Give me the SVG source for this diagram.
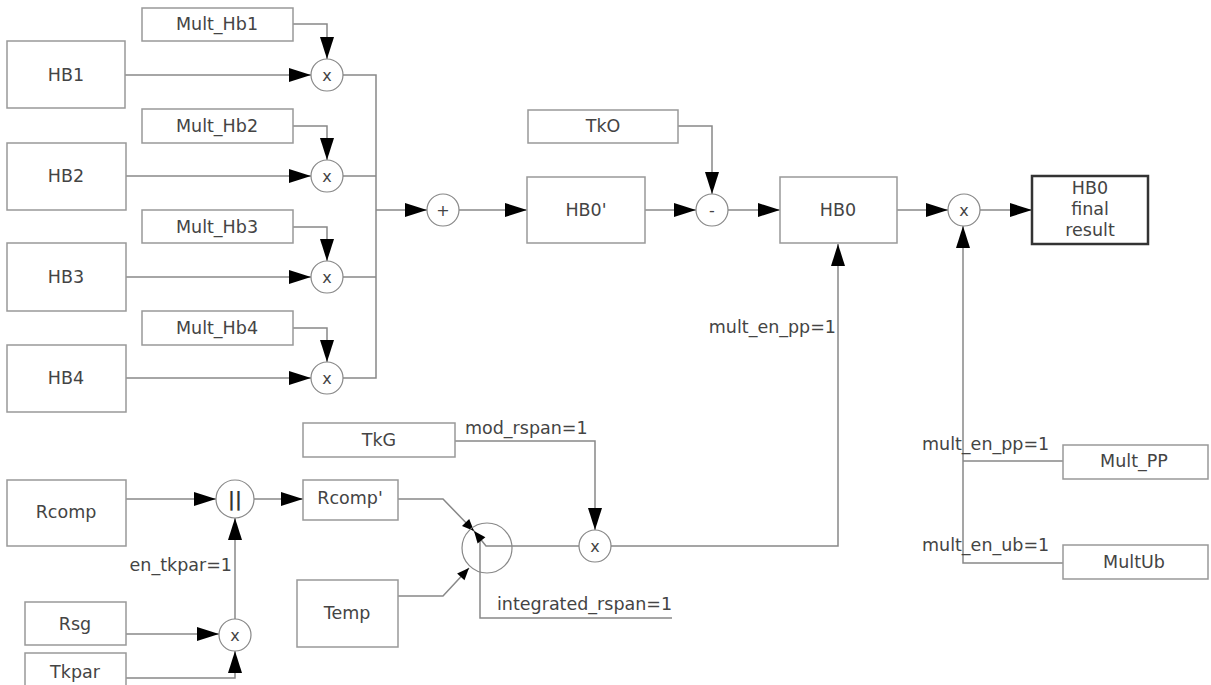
<svg xmlns="http://www.w3.org/2000/svg" width="1211" height="685" viewBox="0 0 1211 685">
<style>
.box{fill:#fff;stroke:#999;stroke-width:1.5}
.fin{fill:#fff;stroke:#333;stroke-width:2.5}
.op{fill:#fff;stroke:#888;stroke-width:1.2}
.ln{fill:none;stroke:#888;stroke-width:1.5}
.t{font-family:"DejaVu Sans",Verdana,sans-serif;font-size:17.5px;fill:#444;text-anchor:middle;dominant-baseline:central}
.lbl{font-family:"DejaVu Sans",Verdana,sans-serif;font-size:17.5px;fill:#444}
.o{font-family:"DejaVu Sans",Verdana,sans-serif;font-size:16px;fill:#444;text-anchor:middle;dominant-baseline:central}
.ah{fill:#000}
</style>
<defs>
<marker id="ah" markerUnits="userSpaceOnUse" viewBox="0 0 22 14" markerWidth="22" markerHeight="14" refX="22" refY="7" orient="auto"><path d="M0,0 L22,7 L0,14 z" fill="#000"/></marker>
</defs>
<rect width="1211" height="685" fill="#fff"/>
<g id="connectors">
<path class="ln" d="M125,75 H311" marker-end="url(#ah)"/>
<path class="ln" d="M126,176 H311" marker-end="url(#ah)"/>
<path class="ln" d="M126,277 H311" marker-end="url(#ah)"/>
<path class="ln" d="M126,378 H311" marker-end="url(#ah)"/>
<path class="ln" d="M293,24 H327 V59" marker-end="url(#ah)"/>
<path class="ln" d="M293,126 H327 V160" marker-end="url(#ah)"/>
<path class="ln" d="M293,227 H327 V261" marker-end="url(#ah)"/>
<path class="ln" d="M293,328 H327 V362" marker-end="url(#ah)"/>
<path class="ln" d="M343,75 H376 V378 H343 M343,176 H376 M343,277 H376"/>
<path class="ln" d="M376,210 H427" marker-end="url(#ah)"/>
<path class="ln" d="M459,210 H527" marker-end="url(#ah)"/>
<path class="ln" d="M645,210 H696" marker-end="url(#ah)"/>
<path class="ln" d="M678,126 H712 V194" marker-end="url(#ah)"/>
<path class="ln" d="M728,210 H780" marker-end="url(#ah)"/>
<path class="ln" d="M897,210 H948" marker-end="url(#ah)"/>
<path class="ln" d="M980,210 H1032" marker-end="url(#ah)"/>
<path class="ln" d="M611,546 H838 V244" marker-end="url(#ah)"/>
<path class="ln" d="M1063,461 H963 M1063,563 H963 V226" marker-end="url(#ah)"/>
<path class="ln" d="M126,499 H216" marker-end="url(#ah)"/>
<path class="ln" d="M254,499 H303" marker-end="url(#ah)"/>
<path class="ln" d="M235,619 V518" marker-end="url(#ah)"/>
<path class="ln" d="M126,634 H219" marker-end="url(#ah)"/>
<path class="ln" d="M126,678 H235 V651" marker-end="url(#ah)"/>
<path class="ln" d="M455,441 H595 V530" marker-end="url(#ah)"/>
<path class="ln" d="M398,499 H443 L474,531"/>
<path class="ln" d="M398,596 H443 L469,568"/>
<path class="ln" d="M474,531 L486,546 H579"/>
<path class="ln" d="M480,538 V618 H672"/>
<polygon class="ah" points="474,531 462,525.9 469.2,518.9"/>
<polygon class="ah" points="474,531 485.4,537.3 477.6,543.5"/>
<polygon class="ah" points="469,568 464.5,580.2 457.1,573.4"/>
</g>
<g id="Mult_Hb1"><rect class="box" x="142" y="8" width="151" height="33"/><text class="t" x="217" y="24">Mult_Hb1</text></g>
<g id="HB1"><rect class="box" x="7" y="41" width="118" height="67"/><text class="t" x="66" y="75">HB1</text></g>
<g id="Mult_Hb2"><rect class="box" x="142" y="109" width="151" height="34"/><text class="t" x="217" y="126">Mult_Hb2</text></g>
<g id="HB2"><rect class="box" x="7" y="143" width="119" height="67"/><text class="t" x="66" y="176">HB2</text></g>
<g id="Mult_Hb3"><rect class="box" x="142" y="210" width="151" height="33"/><text class="t" x="217" y="227">Mult_Hb3</text></g>
<g id="HB3"><rect class="box" x="7" y="243" width="119" height="68"/><text class="t" x="66" y="277">HB3</text></g>
<g id="Mult_Hb4"><rect class="box" x="142" y="311" width="151" height="34"/><text class="t" x="217" y="328">Mult_Hb4</text></g>
<g id="HB4"><rect class="box" x="7" y="345" width="119" height="67"/><text class="t" x="66" y="378">HB4</text></g>
<g id="mul1"><circle class="op" cx="327" cy="75" r="16"/><text class="o" x="327" y="75">x</text></g>
<g id="mul2"><circle class="op" cx="327" cy="176" r="16"/><text class="o" x="327" y="176">x</text></g>
<g id="mul3"><circle class="op" cx="327" cy="277" r="16"/><text class="o" x="327" y="277">x</text></g>
<g id="mul4"><circle class="op" cx="327" cy="378" r="16"/><text class="o" x="327" y="378">x</text></g>
<g id="plus"><circle class="op" cx="443" cy="210" r="16"/><text class="o" x="443" y="210">+</text></g>
<g id="HB0p"><rect class="box" x="527" y="177" width="118" height="66"/><text class="t" x="586" y="210">HB0'</text></g>
<g id="TkO"><rect class="box" x="528" y="110" width="150" height="33"/><text class="t" x="603" y="126">TkO</text></g>
<g id="minus"><circle class="op" cx="712" cy="210" r="16"/><text class="o" x="712" y="210">-</text></g>
<g id="HB0"><rect class="box" x="780" y="177" width="117" height="66"/><text class="t" x="838" y="210">HB0</text></g>
<g id="mul5"><circle class="op" cx="964" cy="210" r="16"/><text class="o" x="964" y="210">x</text></g>
<g id="final"><rect class="fin" x="1032" y="176" width="116" height="68"/><text class="t" x="1090" y="188">HB0</text><text class="t" x="1090" y="209">final</text><text class="t" x="1090" y="230">result</text></g>
<g id="Mult_PP"><rect class="box" x="1063" y="445" width="145" height="34"/><text class="t" x="1134" y="461">Mult_PP</text></g>
<g id="MultUb"><rect class="box" x="1063" y="545" width="145" height="34"/><text class="t" x="1134" y="562">MultUb</text></g>
<g id="TkG"><rect class="box" x="303" y="423" width="152" height="34"/><text class="t" x="379" y="440">TkG</text></g>
<g id="Rcomp"><rect class="box" x="7" y="480" width="119" height="66"/><text class="t" x="66" y="512">Rcomp</text></g>
<g id="par"><circle class="op" cx="235" cy="499" r="19"/><text class="o" x="235" y="499" style="font-size:19px;font-weight:bold;fill:#333">||</text></g>
<g id="Rcompp"><rect class="box" x="303" y="480" width="95" height="40"/><text class="t" x="350" y="498">Rcomp'</text></g>
<g id="Temp"><rect class="box" x="297" y="580" width="101" height="67"/><text class="t" x="347" y="613">Temp</text></g>
<g id="integ"><circle cx="487" cy="548" r="25" fill="none" stroke="#888" stroke-width="1.2"/></g>
<g id="mul6"><circle class="op" cx="595" cy="546" r="16"/><text class="o" x="595" y="546">x</text></g>
<g id="Rsg"><rect class="box" x="25" y="602" width="101" height="43"/><text class="t" x="75" y="624">Rsg</text></g>
<g id="Tkpar"><rect class="box" x="25" y="653" width="101" height="40"/><text class="t" x="75" y="672">Tkpar</text></g>
<g id="mul7"><circle class="op" cx="235" cy="635" r="16"/><text class="o" x="235" y="635">x</text></g>
<g id="labels">
<text class="lbl" x="836" y="333" text-anchor="end">mult_en_pp=1</text>
<text class="lbl" x="922" y="450">mult_en_pp=1</text>
<text class="lbl" x="922" y="551">mult_en_ub=1</text>
<text class="lbl" x="465" y="434">mod_rspan=1</text>
<text class="lbl" x="497" y="610">integrated_rspan=1</text>
<text class="lbl" x="232" y="571" text-anchor="end">en_tkpar=1</text>
</g>
</svg>
